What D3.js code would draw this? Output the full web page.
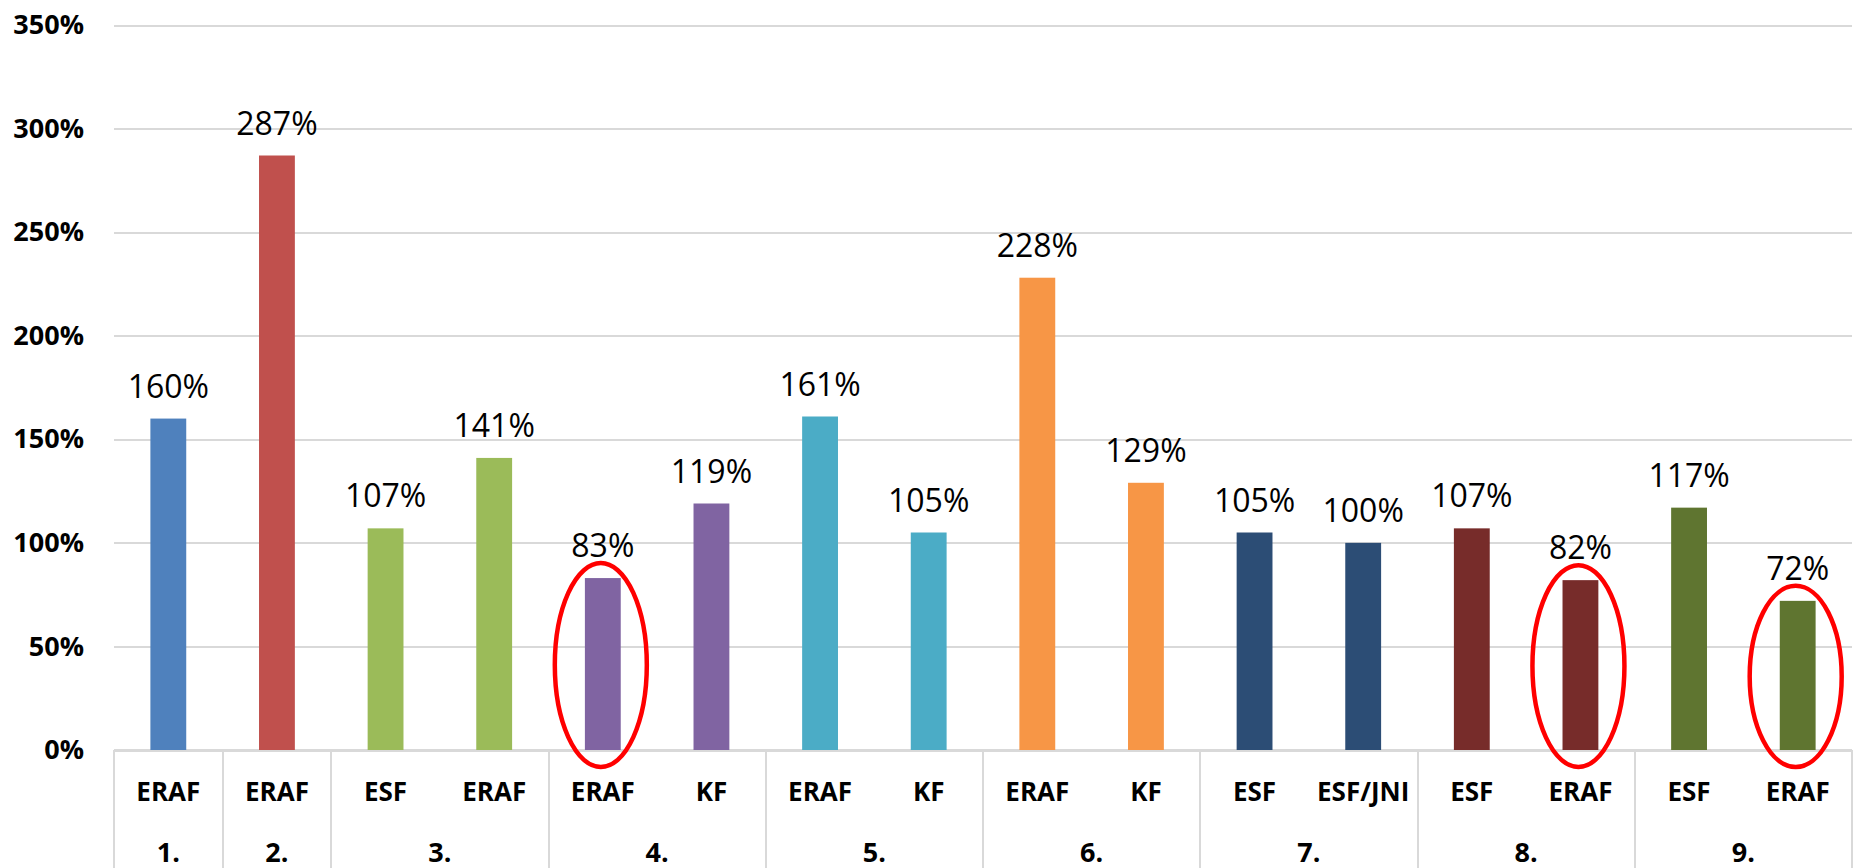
<!DOCTYPE html>
<html lang="lv">
<head>
    <meta charset="UTF-8">
    <title>Fondu izpilde</title>
    <style>
        body{ margin:0; background:#fff; }
        .grid line{ stroke:#d9d9d9; stroke-width:2; shape-rendering:crispEdges; }
        .grid text{ font:bold 27px "Open Sans", sans-serif; fill:#000; }
        .xaxis text{ font:bold 26px "Open Sans", sans-serif; fill:#000; }
        .sep{ stroke:#d9d9d9; stroke-width:2; shape-rendering:crispEdges; }
        .label{ font:32px "Open Sans", sans-serif; fill:#000; text-anchor:middle; }
        .group{ font:bold 27px "Open Sans", sans-serif; fill:#000; text-anchor:middle; }
        .ring{ fill:none; stroke:#ff0000; stroke-width:4.5; }
    </style>
</head>
<body>
    <svg class="chart" width="1864" height="868"></svg>
    <script src="https://d3js.org/d3.v7.min.js"></script>
    <script>
        // data
        var funds = ["ERAF","ERAF","ESF","ERAF","ERAF","KF","ERAF","KF","ERAF","KF","ESF","ESF/JNI","ESF","ERAF","ESF","ERAF"];
        var groupOf = ["1.","2.","3.","3.","4.","4.","5.","5.","6.","6.","7.","7.","8.","8.","9.","9."];
        var values = [160, 287, 107, 141, 83, 119, 161, 105, 228, 129, 105, 100, 107, 82, 117, 72];
        var groups = ["1.","2.","3.","4.","5.","6.","7.","8.","9."];
        var groupColors = ["#4f81bd","#c0504d","#9bbb59","#8064a2","#4bacc6","#f79646","#2c4d75","#772c2a","#5f7530"];
        var yTicks = [0, 50, 100, 150, 200, 250, 300, 350];
        var circled = [4, 13, 15];   // bars marked with a red ring

        var svg = d3.select("svg"),
            margin = {top:25, right:12, bottom:118, left:114},
            width = +svg.attr("width") - margin.left - margin.right,
            height = +svg.attr("height") - margin.top - margin.bottom;

        var data = values.map(function(v, i){
            return {id: String(i), fund: funds[i], group: groupOf[i], value: v};
        });

        var x = d3.scaleBand().domain(data.map(function(d){ return d.id; }))
            .range([0, width]).paddingInner(0.67).paddingOuter(0.335);
        var y = d3.scaleLinear().domain([0, 350]).range([height, 0]);
        var color = d3.scaleOrdinal().domain(groups).range(groupColors);

        var g = svg.append("g").attr("transform", "translate(" + margin.left + "," + margin.top + ")");

        // value axis + gridlines
        var ya = g.append("g").attr("class", "grid")
            .call(d3.axisLeft(y).tickValues(yTicks).tickSize(-width).tickPadding(30)
                .tickFormat(function(d){ return d + "%"; }));
        ya.select(".domain").remove();

        // category axis: fund names
        var xa = g.append("g").attr("class", "xaxis")
            .attr("transform", "translate(0," + height + ")")
            .call(d3.axisBottom(x).tickSize(0).tickPadding(33)
                .tickFormat(function(id){ return funds[+id]; }));
        xa.select(".domain").remove();

        // group spans
        var step = x.step();
        var spans = groups.map(function(name){
            var idx = data.filter(function(d){ return d.group === name; });
            var x0 = x(idx[0].id) - step * x.paddingInner() / 2;
            var x1 = x(idx[idx.length - 1].id) + x.bandwidth() + step * x.paddingInner() / 2;
            return {name: name, x0: x0, x1: x1};
        });

        g.append("line").attr("class", "sep")
            .attr("x1", 0).attr("x2", width).attr("y1", height).attr("y2", height);

        var bounds = [spans[0].x0].concat(spans.map(function(s){ return s.x1; }));
        g.selectAll(".sepv").data(bounds).enter().append("line")
            .attr("class", "sep")
            .attr("x1", function(d){ return d; }).attr("x2", function(d){ return d; })
            .attr("y1", height).attr("y2", height + margin.bottom);

        g.selectAll(".group").data(spans).enter().append("text")
            .attr("class", "group")
            .attr("x", function(d){ return (d.x0 + d.x1) / 2; })
            .attr("y", height + 112)
            .text(function(d){ return d.name; });

        // bars
        g.selectAll(".bar").data(data).enter().append("rect")
            .attr("class", "bar")
            .attr("x", function(d){ return x(d.id); })
            .attr("y", function(d){ return y(d.value); })
            .attr("width", x.bandwidth())
            .attr("height", function(d){ return y(0) - y(d.value); })
            .attr("fill", function(d){ return color(d.group); });

        g.selectAll(".label").data(data).enter().append("text")
            .attr("class", "label")
            .attr("x", function(d){ return x(d.id) + x.bandwidth() / 2; })
            .attr("y", function(d){ return y(d.value) - 21; })
            .text(function(d){ return d.value + "%"; });

        // red rings
        g.selectAll(".ring").data(circled).enter().append("ellipse")
            .attr("class", "ring")
            .attr("cx", function(i){ return x(String(i)) + x.bandwidth() / 2 - 2; })
            .attr("cy", function(i){ return (y(values[i]) - 15 + height + 17) / 2; })
            .attr("rx", 46)
            .attr("ry", function(i){ return (height + 17 - (y(values[i]) - 15)) / 2; });
    </script>
</body>
</html>
